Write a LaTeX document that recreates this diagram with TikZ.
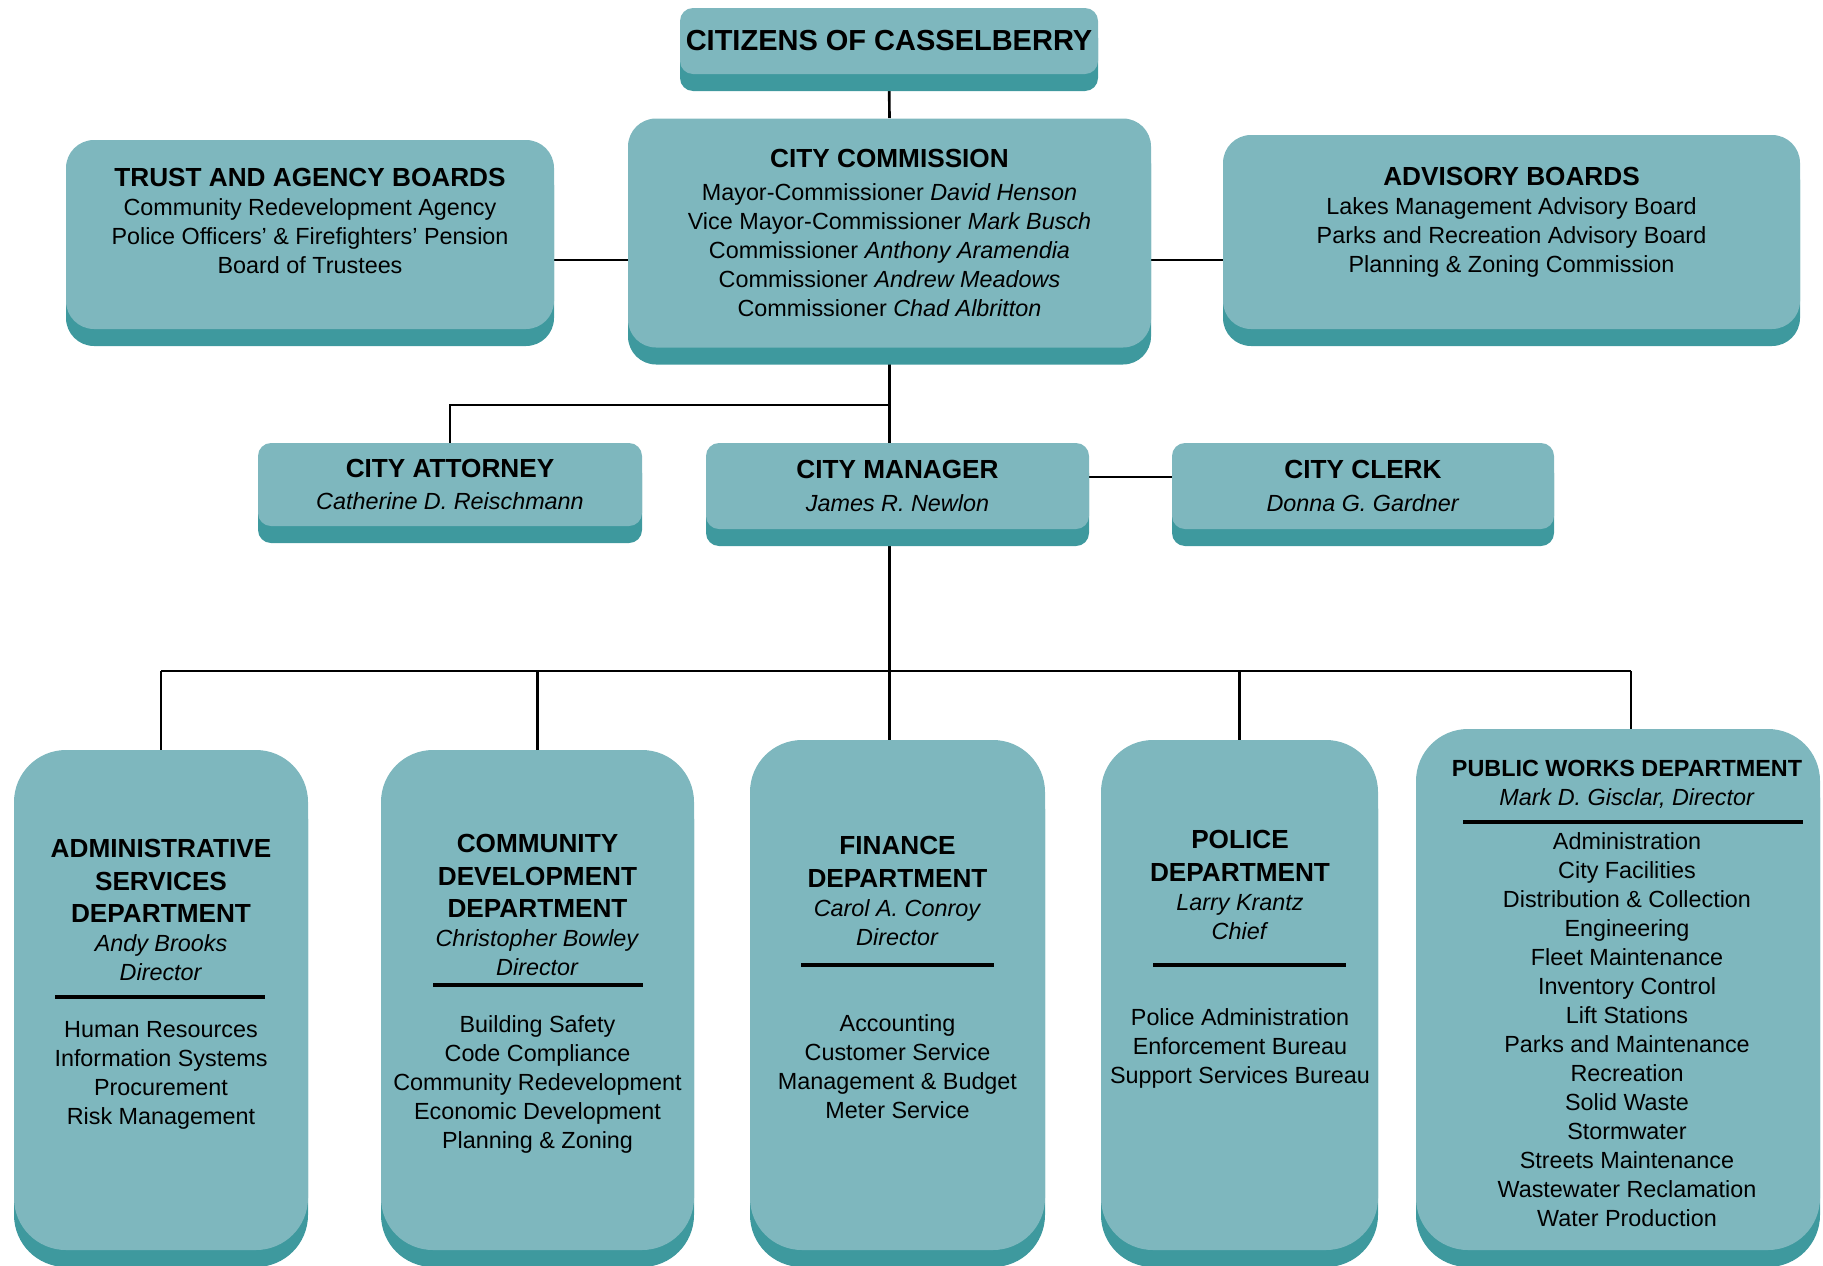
\documentclass[tikz,border=0pt]{standalone}
\usepackage{fontspec}
\setmainfont{Liberation Sans}
\usetikzlibrary{shadows,backgrounds}
\definecolor{corcaixa}{RGB}{126,183,190}
\definecolor{corborda}{RGB}{62,153,158}
\newcommand{\pxu}{0.02cm}
\newcommand{\corpo}{\fontsize{13.3}{16.5}\selectfont}
\newcommand{\titulo}{\bfseries\fontsize{14.9}{18.5}\selectfont}

\begin{document}
\begin{tikzpicture}[x=0.02cm, y=-0.02cm,
  topbox/.style={fill=corcaixa, rounded corners=0.56cm, inner sep=0pt,
    general shadow={fill=corborda, shadow yshift=-0.34cm}},
  smallbox/.style={topbox, rounded corners=0.26cm},
  deptbox/.style={topbox, rounded corners=1.04cm},
  txt/.style={font=\corpo, align=center, inner sep=0pt},
  regra/.style={line width=1.8pt},
  ligacao/.style={line width=1.5pt}]
  \useasboundingbox (0,0) rectangle (1823,1265);
  \clip (0,0) rectangle (1823,1265);
  % topo
  \node[smallbox, minimum width=418*\pxu, minimum height=66*\pxu,
    font=\bfseries\fontsize{16.5}{18}\selectfont] (citizens) at (889,41) {CITIZENS OF CASSELBERRY};
  \node[topbox, txt, minimum width=523*\pxu, minimum height=229*\pxu] (commission) at (889.5,233)
    {{\titulo CITY COMMISSION}\\[2pt]
     Mayor-Commissioner \textit{David Henson}\\
     Vice Mayor-Commissioner \textit{Mark Busch}\\
     Commissioner \textit{Anthony Aramendia}\\
     Commissioner \textit{Andrew Meadows}\\
     Commissioner \textit{Chad Albritton}};
  \node[topbox, minimum width=488*\pxu, minimum height=189*\pxu] (trust) at (310,234.5) {};
  \node[txt] (trust-txt) at (310,221)
    {{\titulo TRUST AND AGENCY BOARDS}\\
     Community Redevelopment Agency\\
     Police Officers' \& Firefighters' Pension\\
     Board of Trustees};
  \node[topbox, minimum width=577*\pxu, minimum height=194*\pxu] (advisory) at (1511.5,232) {};
  \node[txt] (advisory-txt) at (1511.5,222)
    {{\titulo ADVISORY BOARDS}\\
     Lakes Management Advisory Board\\
     Parks and Recreation Advisory Board\\
     Planning \& Zoning Commission};
  % meio
  \node[smallbox, txt, minimum width=384*\pxu, minimum height=83*\pxu] (attorney) at (450,484.5)
    {{\titulo CITY ATTORNEY}\\[2pt] \textit{Catherine D. Reischmann}};
  \node[smallbox, txt, minimum width=383*\pxu, minimum height=86*\pxu] (manager) at (897.5,486)
    {{\titulo CITY MANAGER}\\[2pt] \textit{James R. Newlon}};
  \node[smallbox, txt, minimum width=382*\pxu, minimum height=86*\pxu] (clerk) at (1363,486)
    {{\titulo CITY CLERK}\\[2pt] \textit{Donna G. Gardner}};
  % departamentos
  \node[deptbox, minimum width=294*\pxu, minimum height=500*\pxu] (admin) at (161,1000) {};
  \node[deptbox, minimum width=313*\pxu, minimum height=500*\pxu] (commdev) at (537.5,1000) {};
  \node[deptbox, minimum width=295*\pxu, minimum height=510*\pxu] (finance) at (897.5,995) {};
  \node[deptbox, minimum width=277*\pxu, minimum height=510*\pxu] (police) at (1239.5,995) {};
  \node[deptbox, minimum width=404*\pxu, minimum height=521*\pxu] (works) at (1618,989.5) {};
  % textos
  \node[txt] (admin-head) at (161,910)
    {{\titulo ADMINISTRATIVE}\\[2pt] {\titulo SERVICES}\\[2pt] {\titulo DEPARTMENT}\\
     \textit{Andy Brooks}\\ \textit{Director}};
  \node[txt] (admin-list) at (161,1075)
    {Human Resources\\ Information Systems\\ Procurement\\ Risk Management};
  \node[txt] (commdev-head) at (537.5,905)
    {{\titulo COMMUNITY}\\[2pt] {\titulo DEVELOPMENT}\\[2pt] {\titulo DEPARTMENT}\\
     \textit{Christopher Bowley}\\ \textit{Director}};
  \node[txt] (commdev-list) at (537.5,1084)
    {Building Safety\\ Code Compliance\\ Community Redevelopment\\ Economic Development\\ Planning \& Zoning};
  \node[txt] (finance-head) at (897.5,891)
    {{\titulo FINANCE}\\[2pt] {\titulo DEPARTMENT}\\ \textit{Carol A. Conroy}\\ \textit{Director}};
  \node[txt] (finance-list) at (897.5,1067)
    {Accounting\\ Customer Service\\ Management \& Budget\\ Meter Service};
  \node[txt] (police-head) at (1240,885)
    {{\titulo POLICE}\\[2pt] {\titulo DEPARTMENT}\\ \textit{Larry Krantz}\\ \textit{Chief}};
  \node[txt] (police-list) at (1240,1048)
    {Police Administration\\ Enforcement Bureau\\ Support Services Bureau};
  \node[txt] (works-head) at (1627,784)
    {{\bfseries\fontsize{13.3}{16.5}\selectfont PUBLIC WORKS DEPARTMENT}\\ \textit{Mark D. Gisclar, Director}};
  \node[txt] (works-list) at (1627,1030)
    {Administration\\ City Facilities\\ Distribution \& Collection\\ Engineering\\ Fleet Maintenance\\
     Inventory Control\\ Lift Stations\\ Parks and Maintenance\\ Recreation\\ Solid Waste\\
     Stormwater\\ Streets Maintenance\\ Wastewater Reclamation\\ Water Production};
  % linhas
  \draw[regra] (55,997) -- (265,997);
  \draw[regra] (433,985) -- (643,985);
  \draw[regra] (801,965) -- (994,965);
  \draw[regra] (1153,965) -- (1346,965);
  \draw[regra] (1463,822) -- (1803,822);
  % ligacoes
  \begin{scope}[on background layer]
    \coordinate (bus) at (890,671);
    \draw[ligacao] (citizens.south) -- (commission.north);
    \draw[ligacao] (trust.east |- 0,260) -- (commission.west |- 0,260);
    \draw[ligacao] (commission.east |- 0,260) -- (advisory.west |- 0,260);
    \draw[ligacao] (commission.south) -- (commission.south |- finance.north);
    \draw[ligacao] (commission.south |- 0,405) -| (attorney.north);
    \draw[ligacao] (manager.east |- 0,477) -- (clerk.west |- 0,477);
    \draw[ligacao] (admin.north |- bus) -- (1631,671);
    \foreach \d in {admin,commdev,police} \draw[ligacao] (\d.north |- bus) -- (\d.north);
    \draw[ligacao] (1631,671) -- (1631,729);
  \end{scope}
\end{tikzpicture}
\end{document}
